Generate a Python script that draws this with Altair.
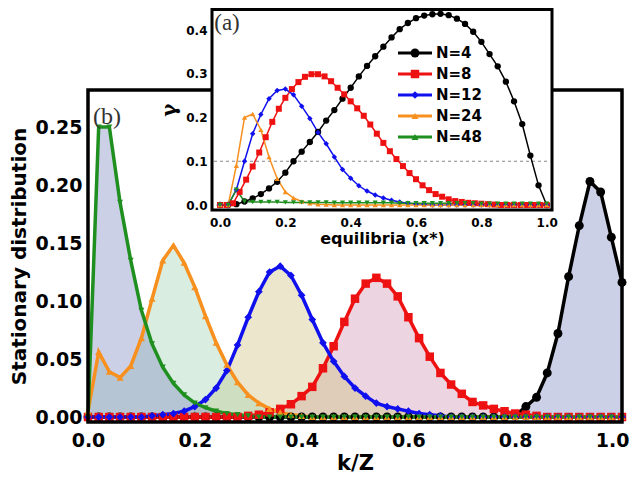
import altair as alt
import pandas as pd

SERIES = ["N=4", "N=8", "N=12", "N=24", "N=48"]
LINE_COLORS = ["#000000", "#ee1111", "#1010ee", "#f7901e", "#1f8f1f"]
FILL_COLORS = ["#808ac0", "#cf93b1", "#cdc07f", "#a0d2b2", "#808ac0"]
SHAPES = ["circle", "square", "diamond", "triangle-up", "triangle-down"]
LEGEND_SHAPES = ["circle", "square", "diamond", "triangle-up", "triangle-up"]
MAIN_SIZES = [80, 72, 60, 50, 36]
INSET_SIZES = [40, 36, 30, 28, 26]
LEGEND_SIZES = [80, 72, 60, 50, 50]

# main panel (b): stationary distribution vs k/Z, Z = 50
kz = [i / 50 for i in range(51)]
black_main = [0.0] * 40 + [0.001, 0.009, 0.017, 0.038, 0.072, 0.121, 0.165, 0.203, 0.194, 0.155, 0.116]
red_main = [0.0] * 15 + [0.001, 0.002, 0.004, 0.007, 0.011, 0.018, 0.026, 0.042, 0.061, 0.082,
                         0.102, 0.115, 0.120, 0.115, 0.104, 0.086, 0.068, 0.052, 0.038, 0.028,
                         0.020, 0.013, 0.010, 0.007, 0.005, 0.003, 0.002, 0.001] + [0.0] * 8
blue_main = [0.0] * 6 + [0.001, 0.002, 0.003, 0.005, 0.009, 0.015, 0.025, 0.040, 0.062, 0.086,
                         0.108, 0.125, 0.130, 0.122, 0.105, 0.084, 0.064, 0.048, 0.035, 0.025,
                         0.018, 0.012, 0.009, 0.007, 0.005, 0.003, 0.002, 0.001] + [0.0] * 17
orange_main = [0.005, 0.056, 0.039, 0.034, 0.044, 0.068, 0.102, 0.135, 0.148, 0.133,
               0.112, 0.087, 0.064, 0.045, 0.030, 0.019, 0.012, 0.007, 0.004, 0.002, 0.001] + [0.0] * 30
green_main = [0.0, 0.25, 0.25, 0.185, 0.135, 0.092, 0.063, 0.043, 0.029, 0.019,
              0.012, 0.008, 0.005, 0.003, 0.002, 0.001] + [0.0] * 35

# inset (a): gamma vs equilibria x*
x40 = [i / 40 for i in range(41)]
x50 = [i / 50 for i in range(51)]
black_in = [0.0, 0.0, 0.002, 0.008, 0.015, 0.025, 0.038, 0.053, 0.074, 0.100,
            0.122, 0.144, 0.167, 0.193, 0.217, 0.243, 0.268, 0.294, 0.318, 0.340,
            0.362, 0.383, 0.402, 0.416, 0.427, 0.433, 0.436, 0.437, 0.434, 0.426,
            0.414, 0.396, 0.373, 0.345, 0.317, 0.282, 0.237, 0.185, 0.113, 0.045, 0.0]
red_in = [0.0, 0.0, 0.004, 0.030, 0.058, 0.088, 0.120, 0.155, 0.190, 0.220,
          0.245, 0.265, 0.281, 0.293, 0.299, 0.299, 0.294, 0.283, 0.268, 0.253,
          0.237, 0.221, 0.204, 0.184, 0.163, 0.142, 0.123, 0.105, 0.089, 0.073,
          0.059, 0.045, 0.034, 0.025, 0.019, 0.013, 0.009, 0.007, 0.005, 0.004,
          0.003, 0.002, 0.001] + [0.0] * 8
blue_in = [0.0, 0.0, 0.035, 0.100, 0.163, 0.207, 0.243, 0.262, 0.265, 0.252,
           0.226, 0.198, 0.166, 0.140, 0.110, 0.081, 0.061, 0.044, 0.032, 0.023,
           0.016, 0.011, 0.007, 0.004, 0.002, 0.001] + [0.0] * 15
orange_in = [0.0, 0.0, 0.090, 0.200, 0.208, 0.172, 0.110, 0.060, 0.030, 0.016,
             0.008, 0.004, 0.002, 0.001] + [0.0] * 27
green_in = [0.0, 0.0, 0.035, 0.008] + [0.007] * 4 + [0.006] * 6 + [0.005] * 8 + [0.004] * 10 + [0.003] * 9

X_TICKS = [0.0, 0.2, 0.4, 0.6, 0.8, 1.0]
Y_MAIN_TICKS = [0.0, 0.05, 0.10, 0.15, 0.20, 0.25]
Y_IN_TICKS = [0.0, 0.1, 0.2, 0.3, 0.4]


def long_df(xs_list, ys_list):
    rows = []
    for s, xs, ys in zip(SERIES, xs_list, ys_list):
        for x, y in zip(xs, ys):
            rows.append({"x": x, "y": y, "series": s})
    return pd.DataFrame(rows)


main_df = long_df([kz] * 5, [black_main, red_main, blue_main, orange_main, green_main])
inset_df = long_df([x40, x50, x40, x40, x40], [black_in, red_in, blue_in, orange_in, green_in])
one = pd.DataFrame({"t": [0]})
leg_df = pd.DataFrame({"series": SERIES})

F = "DejaVu Sans"
color_scale = alt.Scale(domain=SERIES, range=LINE_COLORS)
LAST = "datum.value >= 0.99"

# ---------------- main panel ----------------
xs_main = alt.Scale(domain=[0, 1], range=[0, 534], nice=False, zero=False)
ys_main = alt.Scale(domain=[-0.0043, 0.2819], range=[414, 82], nice=False, zero=False)
x_main_axis = alt.Axis(values=X_TICKS, format=".1f", title="k/Z", grid=False, ticks=False, domain=False,
                       labelFont=F, labelFontWeight="bold", labelFontSize=19, labelColor="black",
                       labelPadding=9, labelFlush=False, labelOverlap=False,
                       labelAlign={"condition": {"test": LAST, "value": "right"}, "value": "center"},
                       labelOffset={"condition": {"test": LAST, "value": 7}, "value": 0},
                       titleFont=F, titleFontWeight="bold", titleFontSize=21, titleColor="black",
                       titlePadding=2)
y_main_axis = alt.Axis(values=Y_MAIN_TICKS, format=".2f", title="Stationary distribution", grid=False,
                       ticks=False, domain=False,
                       labelFont=F, labelFontWeight="bold", labelFontSize=19, labelColor="black",
                       labelPadding=6, labelOverlap=False,
                       titleFont=F, titleFontWeight="bold", titleFontSize=20, titleColor="black",
                       titlePadding=6)
X_MAIN = alt.X("x:Q", scale=xs_main, axis=x_main_axis)
Y_MAIN = alt.Y("y:Q", scale=ys_main, axis=y_main_axis, stack=None)

area = alt.Chart(main_df).mark_area(fillOpacity=0.4, strokeWidth=0).encode(
    x=X_MAIN, y=Y_MAIN,
    fill=alt.Fill("series:N", scale=alt.Scale(domain=SERIES, range=FILL_COLORS), legend=None),
)
line = alt.Chart(main_df).mark_line(strokeWidth=3.5).encode(
    x=X_MAIN, y=Y_MAIN,
    color=alt.Color("series:N", scale=color_scale, legend=None),
)
main_points = []
for s, c, sh, sz in zip(SERIES, LINE_COLORS, SHAPES, MAIN_SIZES):
    main_points.append(
        alt.Chart(main_df).transform_filter(alt.datum.series == s).mark_point(
            filled=True, opacity=1, color=c, shape=sh, size=sz).encode(x=X_MAIN, y=Y_MAIN)
    )
frame = alt.Chart(one).mark_rect(fillOpacity=0, stroke="black", strokeWidth=3.5).encode(
    x=alt.value(0), x2=alt.value(534), y=alt.value(82), y2=alt.value(414))
label_b = alt.Chart(one).mark_text(text="(b)", font="Liberation Serif", fontSize=24, color="#333",
                                   align="center", baseline="middle").encode(
    x=alt.value(19), y=alt.value(109))
main = alt.layer(area, line, *main_points, frame, label_b)

# ---------------- inset ----------------
xs_in = alt.Scale(domain=[-0.0245, 1.0162], range=[124, 464], nice=False, zero=False)
ys_in = alt.Scale(domain=[-0.0114, 0.4469], range=[202, 1.5], nice=False, zero=False)
x_in_axis = alt.Axis(values=X_TICKS, format=".1f", title="equilibria (x*)", orient="bottom", offset=-212,
                     grid=False, ticks=False, domain=False, zindex=1,
                     labelFont=F, labelFontWeight="bold", labelFontSize=12, labelColor="black",
                     labelPadding=7, labelFlush=False, labelOverlap=False,
                     titleFont=F, titleFontWeight="bold", titleFontSize=16, titleColor="black",
                     titlePadding=2)
y_in_axis = alt.Axis(values=Y_IN_TICKS, format=".1f", title="γ", orient="left", offset=-124,
                     grid=False, ticks=False, domain=False, zindex=1,
                     labelFont=F, labelFontWeight="bold", labelFontSize=12, labelColor="black",
                     labelPadding=5, labelOverlap=False,
                     titleFont="DejaVu Serif", titleFontWeight="bold", titleFontSize=20,
                     titleColor="black", titlePadding=6)
X_IN = alt.X("x:Q", scale=xs_in, axis=x_in_axis)
Y_IN = alt.Y("y:Q", scale=ys_in, axis=y_in_axis)

inset_bg = alt.Chart(one).mark_rect(fill="white", stroke="black", strokeWidth=3).encode(
    x=alt.value(124), x2=alt.value(464), y=alt.value(1.5), y2=alt.value(202))
dash = alt.Chart(one).mark_rule(color="#888888", strokeDash=[3, 3], strokeWidth=1).encode(
    x=alt.value(126), x2=alt.value(462),
    y=alt.Y(datum=0.1, type="quantitative", scale=ys_in, axis=y_in_axis))
inset_line = alt.Chart(inset_df).mark_line(strokeWidth=1.5).encode(
    x=X_IN, y=Y_IN,
    color=alt.Color("series:N", scale=color_scale, legend=None),
)
inset_points = []
for s, c, sh, sz in zip(SERIES, LINE_COLORS, SHAPES, INSET_SIZES):
    inset_points.append(
        alt.Chart(inset_df).transform_filter(alt.datum.series == s).mark_point(
            filled=True, opacity=1, color=c, shape=sh, size=sz).encode(x=X_IN, y=Y_IN)
    )
label_a = alt.Chart(one).mark_text(text="(a)", font="Liberation Serif", fontSize=23, color="#333",
                                   align="center", baseline="middle").encode(
    x=alt.value(139), y=alt.value(15))
inset = alt.layer(inset_bg, dash, inset_line, *inset_points, label_a)

# ---------------- legend ----------------
leg_y = alt.Y("series:N", scale=alt.Scale(type="point", domain=SERIES, range=[45, 129], padding=0), axis=None)
leg_rule = alt.Chart(leg_df).mark_rule(strokeWidth=3).encode(
    x=alt.value(310), x2=alt.value(344), y=leg_y,
    color=alt.Color("series:N", scale=color_scale, legend=None))
leg_points = []
for s, c, sh, sz in zip(SERIES, LINE_COLORS, LEGEND_SHAPES, LEGEND_SIZES):
    leg_points.append(
        alt.Chart(leg_df).transform_filter(alt.datum.series == s).mark_point(
            filled=True, opacity=1, color=c, shape=sh, size=sz).encode(x=alt.value(327), y=leg_y))
leg_text = alt.Chart(leg_df).mark_text(align="left", baseline="middle", font=F, fontWeight="bold",
                                       fontSize=15, color="black").encode(
    x=alt.value(348), y=leg_y, text="series:N")
legend = alt.layer(leg_rule, *leg_points, leg_text)

chart = alt.layer(main, inset, legend).resolve_scale(
    x="independent", y="independent"
).properties(
    width=534, height=414,
    autosize=alt.AutoSizeParams(type="none"),
    padding={"left": 80, "top": 0, "right": 8, "bottom": 53},
    background="white",
).configure_view(stroke=None)

chart.save("out.html", embed_options={"renderer": "svg", "actions": False})
